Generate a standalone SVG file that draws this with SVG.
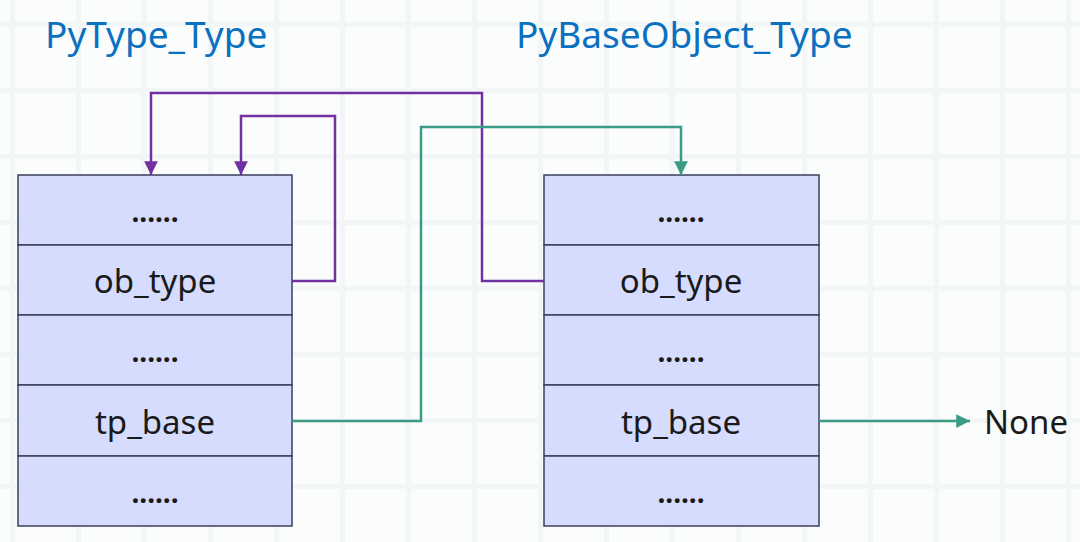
<svg xmlns="http://www.w3.org/2000/svg" width="1080" height="542" viewBox="0 0 1080 542">
<defs>
<style>
.title{font-family:"Noto Sans","Open Sans",sans-serif;font-size:37px;fill:#0a70c0}
.cell{fill:#d6dcfe;stroke:#3a3f5c;stroke-width:1.5}
.lbl{font-family:"Noto Sans","Open Sans",sans-serif;font-size:33px;fill:#1a1a1a;text-anchor:middle}
.dots{font-family:"Noto Sans","Open Sans",sans-serif;font-size:28px;fill:#1a1a1a;text-anchor:middle;font-weight:bold}
.pur{fill:none;stroke:#7231a1;stroke-width:2.5}
.grn{fill:none;stroke:#3a9c87;stroke-width:2.5}
</style>
<marker id="ap" viewBox="0 0 10 10" refX="10" refY="5" markerWidth="5.5" markerHeight="5.5" orient="auto" markerUnits="strokeWidth"><path d="M0,0 L10,5 L0,10 z" fill="#7231a1"/></marker>
<marker id="ag" viewBox="0 0 10 10" refX="10" refY="5" markerWidth="5.5" markerHeight="5.5" orient="auto" markerUnits="strokeWidth"><path d="M0,0 L10,5 L0,10 z" fill="#3a9c87"/></marker>
<pattern id="grid" width="66" height="66" patternUnits="userSpaceOnUse" x="10" y="22"><rect width="66" height="66" fill="#fbfcfc"/><path d="M0,0 H66 M0,0 V66" stroke="#f3f6f6" stroke-width="10"/></pattern>
</defs>
<rect width="1080" height="542" fill="url(#grid)"/>
<text class="title" x="45" y="48">PyType_Type</text>
<text class="title" x="516" y="48">PyBaseObject_Type</text>
<g id="pytype">
<rect class="cell" x="18" y="175" width="274" height="70"/>
<rect class="cell" x="18" y="245" width="274" height="70"/>
<rect class="cell" x="18" y="315" width="274" height="70"/>
<rect class="cell" x="18" y="385" width="274" height="71"/>
<rect class="cell" x="18" y="456" width="274" height="70"/>
<text class="dots" x="155" y="222">......</text>
<text class="lbl" x="155" y="293">ob_type</text>
<text class="dots" x="155" y="362">......</text>
<text class="lbl" x="155" y="434">tp_base</text>
<text class="dots" x="155" y="503">......</text>
</g>
<g id="pybaseobject">
<rect class="cell" x="544" y="175" width="275" height="70"/>
<rect class="cell" x="544" y="245" width="275" height="70"/>
<rect class="cell" x="544" y="315" width="275" height="70"/>
<rect class="cell" x="544" y="385" width="275" height="71"/>
<rect class="cell" x="544" y="456" width="275" height="70"/>
<text class="dots" x="681" y="222">......</text>
<text class="lbl" x="681" y="293">ob_type</text>
<text class="dots" x="681" y="362">......</text>
<text class="lbl" x="681" y="434">tp_base</text>
<text class="dots" x="681" y="503">......</text>
</g>
<g id="none">
<text class="lbl" x="1026" y="434">None</text>
</g>
<g id="connectors">
<path class="pur" d="M544,281 H482 V93 H151 V175" marker-end="url(#ap)"/>
<path class="pur" d="M292,281 H335 V116 H241 V175" marker-end="url(#ap)"/>
<path class="grn" d="M292,421 H421 V127 H681 V175" marker-end="url(#ag)"/>
<path class="grn" d="M819,421 H970" marker-end="url(#ag)"/>
</g>
</svg>
